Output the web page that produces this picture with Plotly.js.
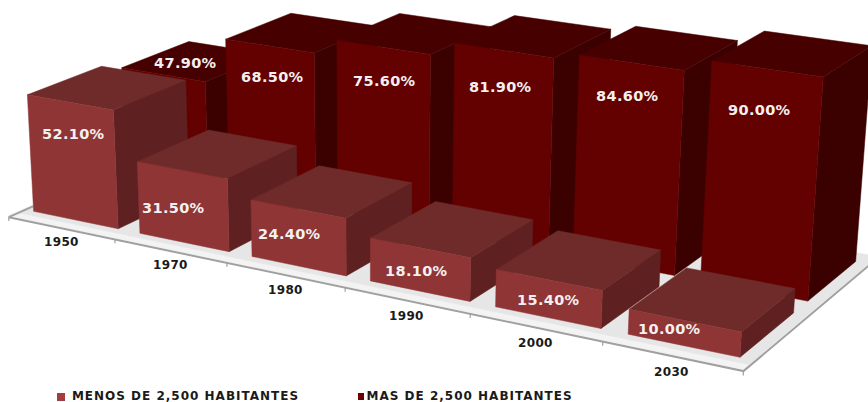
<!DOCTYPE html><html><head><script src="https://cdn.plot.ly/plotly-3.0.1.min.js"></script>
<style>html,body{margin:0;background:#fff;overflow:hidden}
.annotation-text{letter-spacing:.35px}
.annotation:nth-last-child(-n+2) .annotation-text{letter-spacing:1px}</style></head><body><div id="chart" style="width:868px;height:402px"></div><script>
const categories=['1950','1970','1980','1990','2000','2030'];
const menos=[52.1,31.5,24.4,18.1,15.4,10];
const mas=[47.9,68.5,75.6,81.9,84.6,90];
const seriesNames=['MENOS DE 2,500 HABITANTES','MAS DE 2,500 HABITANTES'];
// camera fitted to the reference's 3D view
const CAM=[0.619394,0.197933,-0.013015,0.017237,0.096243,-0.065480,-0.228058,0.431325,-0.077724,0.050765,-0.017314];
function pr(X,Y,Z){const x=X/3,y=Y,z=Z/50,w=CAM[8]*x+CAM[9]*y+CAM[10]*z+1;
 return [500*(CAM[0]*x+CAM[1]*y+CAM[2]*z+CAM[3])/w,500*(CAM[4]*x+CAM[5]*y+CAM[6]*z+CAM[7])/w];}
const gap=.1,rowF=[.15,.93],rowB=[1.15,1.93],floorEnd=2.08;
const pal={f:{front:'#8f3535',top:'#6f2a2a',side:'#5e2020'},b:{front:'#630000',top:'#460000',side:'#3b0000'}};
const traces=[];
function poly(c3,color){const p=c3.map(c=>pr(...c));p.push(p[0]);
 traces.push({type:'scatter',mode:'lines',x:p.map(q=>q[0]),y:p.map(q=>q[1]),fill:'toself',fillcolor:color,line:{width:0.5,color:color},hoverinfo:'skip',showlegend:false});}
function line(c3,color,w){const p=c3.map(c=>pr(...c));
 traces.push({type:'scatter',mode:'lines',x:p.map(q=>q[0]),y:p.map(q=>q[1]),line:{width:w,color:color},hoverinfo:'skip',showlegend:false});}
function box(i,row,v,col){const x0=i+gap,x1=i+1-gap,y0=row[0],y1=row[1];
 poly([[x1,y0,0],[x1,y1,0],[x1,y1,v],[x1,y0,v]],col.side);
 poly([[x0,y0,v],[x1,y0,v],[x1,y1,v],[x0,y1,v]],col.top);
 poly([[x0,y0,0],[x1,y0,0],[x1,y0,v],[x0,y0,v]],col.front);}
const n=categories.length;
poly([[0,0,0],[n,0,0],[n,floorEnd,0],[0,floorEnd,0]],'#e6e6e6');
poly([[0,0,0],[n,0,0],[n,.07,0],[0,.07,0]],'#f3f3f3');
line([[0,0,-.7],[n,0,-.7],[n,floorEnd,-.7]],'#a0a0a0',2);
line([[0,0,-.7],[0,.25,-.7]],'#a0a0a0',2);
for(let k=0;k<=n;k++)line([[k,0,-.7],[k,0,-2.4]],'#a0a0a0',1.2);
mas.forEach((v,i)=>box(i,rowB,v,pal.b));
menos.forEach((v,i)=>box(i,rowF,v,pal.f));
const fF={family:'DejaVu Sans',size:14.5,color:'#f4f0f0',weight:700};
const annotations=[];
function txt(x,y,t,font,anchor){annotations.push({x,y,text:t,showarrow:false,font,xanchor:anchor||'center',yanchor:'middle',xref:'x',yref:'y'});}
// label nudges from the top-front-centre of each bar, px
const fDx=[4,-8,-8,-3,0,-15],fDy=[32,38,25,23,20,8],bDx=[22,3,1,-3,-4,-7],bDy=[-12,31,34,37,33,41];
menos.forEach((v,i)=>{const p=pr(i+.5,rowF[0],v);txt(p[0]+fDx[i],p[1]+fDy[i],v.toFixed(2)+'%',fF);});
mas.forEach((v,i)=>{const p=pr(i+.5,rowB[0],v);txt(p[0]+bDx[i],p[1]+bDy[i],v.toFixed(2)+'%',fF);});
const fT={family:'DejaVu Sans',size:12,color:'#1a1a1a',weight:700};
categories.forEach((c,i)=>{const p=pr(i+.5,0,-7);txt(p[0],p[1],c,fT);});
const fL={family:'DejaVu Sans',size:12,color:'#1a1a1a',weight:700};
txt(78,396,seriesNames[0],fL,'left');txt(372,396,seriesNames[1],fL,'left');
const shapes=[{type:'rect',xref:'x',yref:'y',x0:57,x1:65,y0:393,y1:401,fillcolor:'#a13e3e',line:{width:0}},
 {type:'rect',xref:'x',yref:'y',x0:358,x1:364,y0:393,y1:400,fillcolor:'#6b0000',line:{width:0}}];
Plotly.newPlot('chart',traces,{width:868,height:402,margin:{l:0,r:0,t:0,b:0},paper_bgcolor:'#fff',plot_bgcolor:'#fff',showlegend:false,
 xaxis:{range:[0,868],visible:false,fixedrange:true},yaxis:{range:[402,0],visible:false,fixedrange:true},annotations,shapes},{staticPlot:true,displayModeBar:false});
</script></body></html>
